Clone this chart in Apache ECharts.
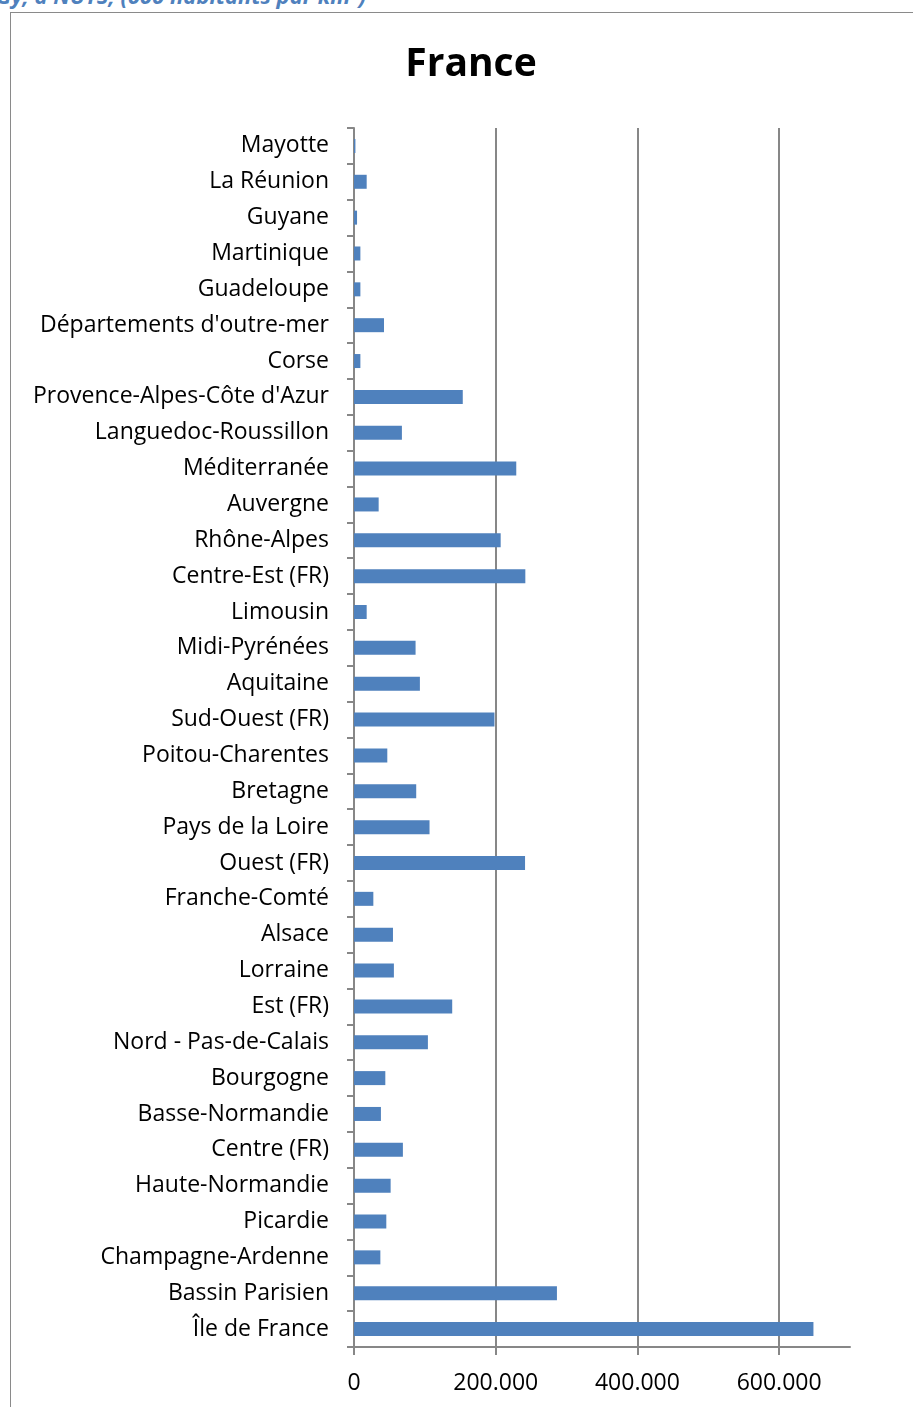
<!DOCTYPE html>
<html>
<head>
<meta charset="utf-8">
<script src="https://cdn.jsdelivr.net/npm/echarts@6/dist/echarts.min.js"></script>
<style>
html,body{margin:0;padding:0;background:#fff;}
#frame{position:absolute;left:10px;top:12px;width:1000px;height:1500px;border-left:1.5px solid #8a8a8a;border-top:1.5px solid #8a8a8a;}
#top{position:absolute;left:-4px;top:-20px;font-family:"Open Sans",sans-serif;font-style:italic;font-weight:bold;font-size:22px;color:#4F81BD;white-space:nowrap;}
#chart{position:absolute;left:0;top:0;width:913px;height:1407px;}
</style>
</head>
<body>
<div id="top">Gy, à NUTS, (000 habitants par km²)</div>
<div id="frame"></div>
<div id="chart"></div>
<script>
const categories = [
  "Mayotte","La Réunion","Guyane","Martinique","Guadeloupe","Départements d'outre-mer","Corse",
  "Provence-Alpes-Côte d'Azur","Languedoc-Roussillon","Méditerranée","Auvergne","Rhône-Alpes",
  "Centre-Est (FR)","Limousin","Midi-Pyrénées","Aquitaine","Sud-Ouest (FR)","Poitou-Charentes",
  "Bretagne","Pays de la Loire","Ouest (FR)","Franche-Comté","Alsace","Lorraine","Est (FR)",
  "Nord - Pas-de-Calais","Bourgogne","Basse-Normandie","Centre (FR)","Haute-Normandie","Picardie",
  "Champagne-Ardenne","Bassin Parisien","Île de France"
];
const values = [
  2000, 17900, 4300, 9000, 9000, 42300, 9000,
  153500, 67600, 229000, 34800, 207000,
  241800, 17900, 86900, 93000, 198200, 47000,
  87800, 106600, 241400, 27300, 55000, 56300, 138600,
  104300, 44200, 38000, 69000, 51700, 45600,
  37200, 286400, 648400
];
const tickValues = [0, 200000, 400000, 600000];
const axisMax = 700000;
const titleText = "France";

const chart = echarts.init(document.getElementById('chart'), null, {renderer:'canvas'});
const gray = '#878787';
chart.setOption({
  backgroundColor: 'transparent',
  animation: false,
  title: {
    text: titleText, left: 466, top: 40, textAlign: 'center',
    textStyle: {fontFamily: 'Open Sans', fontWeight: 'bold', fontSize: 39, color: '#000'}
  },
  grid: {left: 354, right: 63, top: 128, bottom: 60, containLabel: false},
  xAxis: {
    type: 'value', min: 0, max: axisMax, interval: 200000,
    axisLine: {show: true, lineStyle: {color: gray, width: 2}},
    axisTick: {show: true, length: 8, lineStyle: {color: gray, width: 2}, customValues: tickValues},
    splitLine: {show: true, lineStyle: {color: gray, width: 2}},
    axisLabel: {
      customValues: tickValues, margin: 25,
      fontFamily: 'Open Sans', fontSize: 23, color: '#000',
      formatter: v => v === 0 ? '0' : (v/1000).toFixed(0) + '.000'
    }
  },
  yAxis: {
    type: 'category', data: categories, inverse: true,
    axisLine: {show: true, lineStyle: {color: gray, width: 2}},
    axisTick: {show: true, length: 7, alignWithLabel: false, lineStyle: {color: gray, width: 2}},
    axisLabel: {margin: 25, padding: [2, 0, 0, 0], fontFamily: 'Open Sans', fontSize: 23, color: '#000', interval: 0}
  },
  series: [{
    type: 'bar', data: values, barWidth: 14,
    itemStyle: {color: '#4F81BD'}
  }]
});
</script>
</body>
</html>
